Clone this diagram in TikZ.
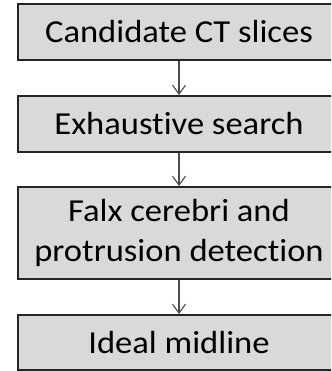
\documentclass[tikz,border=0pt]{standalone}
\usepackage{fontspec}
\setmainfont{Carlito}[FakeStretch=1.08,Ligatures={NoCommon,NoContextual}]
\usetikzlibrary{arrows.meta}

\begin{document}
\begin{tikzpicture}[x=1pt,y=1pt,line width=1pt,
  stage/.style={draw=black!85,fill=black!15,line width=1.8pt,minimum width=322pt,
    minimum height=56pt,inner sep=0pt,align=center,font=\fontsize{32}{40}\selectfont},
  flow/.style={->,draw=black!70,line width=1.1pt,>={Straight Barb[length=9pt,width=13pt]}}]
\useasboundingbox (0,0) rectangle (331,371);
\clip (0,0) rectangle (331,371);
% processing stages, top to bottom
\node[stage] (slices) at (179,339) {Candidate CT slices};
\node[stage] (search) at (179,247) {Exhaustive search};
\node[stage,minimum height=92pt] (falx) at (179,138) {Falx cerebri and\\protrusion detection};
\node[stage,minimum height=55pt] (midline) at (179,28.5) {Ideal midline};
% arrows between stages
\draw[flow] (slices.south) -- (search.north);
\draw[flow] (search.south) -- (falx.north);
\draw[flow] (falx.south) -- (midline.north);
\end{tikzpicture}
\end{document}
